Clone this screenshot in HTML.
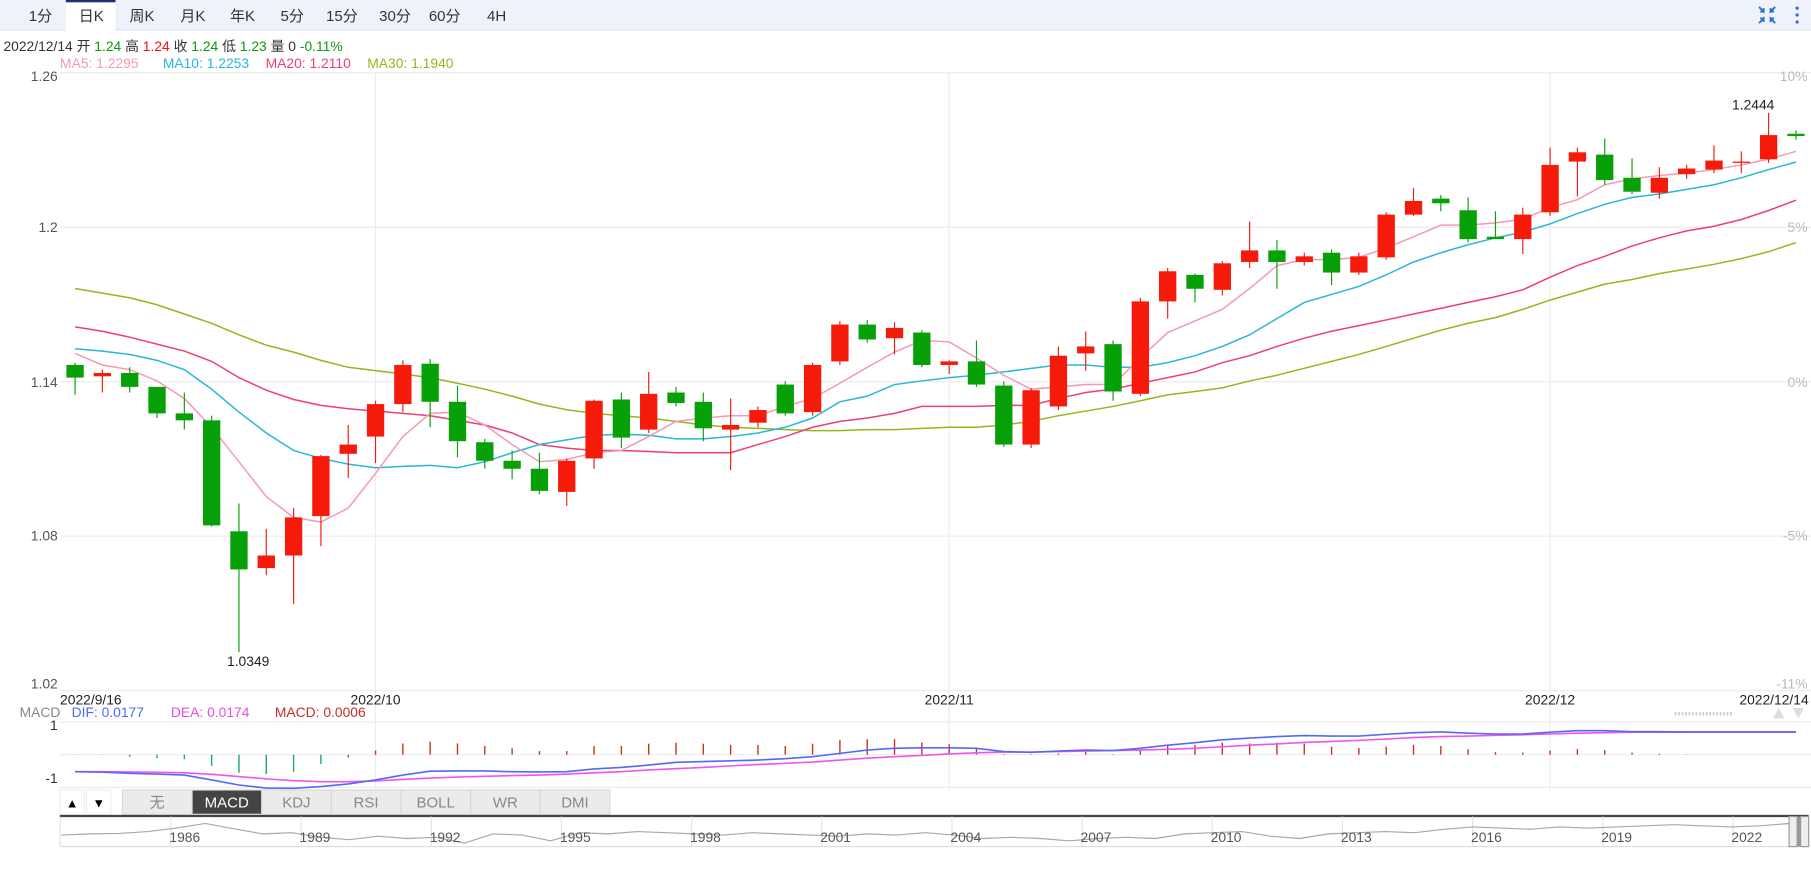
<!DOCTYPE html>
<html><head><meta charset="utf-8">
<style>
html,body{margin:0;padding:0;background:#fff;width:1811px;height:875px;overflow:hidden}
svg{display:block}
text{font-family:"Liberation Sans","Noto Sans CJK SC",sans-serif}
</style></head>
<body>
<svg id="chart" width="1811" height="875" viewBox="0 0 1568 757.6" preserveAspectRatio="none" xmlns="http://www.w3.org/2000/svg">
  <g>
    <rect x="0" y="0" width="1568" height="26" fill="#eef3fb"/>
    <line x1="0" y1="26" x2="1568" y2="26" stroke="#dde4f0"/>
    <rect x="57" y="0" width="43" height="27" fill="#fff"/>
    <rect x="57" y="0" width="43" height="2" fill="#1d2f6f"/>
  </g>
  <g id="tabs" font-size="13" fill="#333" text-anchor="middle"></g>
  <g stroke="#2a6fd6" stroke-width="1.6" fill="none">
    <path d="M1523 6 L1527 10 L1527 7 M1527 10 L1524 10"/>
    <path d="M1537 6 L1533 10 L1533 7 M1533 10 L1536 10"/>
    <path d="M1523 20 L1527 16 L1527 19 M1527 16 L1524 16"/>
    <path d="M1537 20 L1533 16 L1533 19 M1533 16 L1536 16"/>
  </g>
  <g fill="#2a6fd6">
    <circle cx="1556" cy="7" r="1.4"/><circle cx="1556" cy="13" r="1.4"/><circle cx="1556" cy="19" r="1.4"/>
  </g>
  <text x="3" y="44" font-size="12" fill="#333">2022/12/14 开 <tspan fill="#0a9a0a">1.24</tspan> 高 <tspan fill="#f01010">1.24</tspan> 收 <tspan fill="#0a9a0a">1.24</tspan> 低 <tspan fill="#0a9a0a">1.23</tspan> 量 0 <tspan fill="#0a9a0a">-0.11%</tspan></text>
  <g font-size="12">
    <text x="52" y="59" fill="#f59ab4">MA5: 1.2295</text>
    <text x="141" y="59" fill="#29b6d8">MA10: 1.2253</text>
    <text x="230" y="59" fill="#ee3f74">MA20: 1.2110</text>
    <text x="318" y="59" fill="#93b81d">MA30: 1.1940</text>
  </g>
  <g id="grid"></g>
  <g id="mas"></g>
  <g id="candles"></g>
  <g id="labels"></g>
  <g font-size="12">
    <text x="17" y="621" fill="#888">MACD</text>
    <text x="62" y="621" fill="#4a6cf7">DIF: 0.0177</text>
    <text x="148" y="621" fill="#e84ce8">DEA: 0.0174</text>
    <text x="238" y="621" fill="#c0302a">MACD: 0.0006</text>
  </g>
  <g>
    <line x1="1450" y1="618" x2="1500" y2="618" stroke="#ccc" stroke-dasharray="1.5 1.5" stroke-width="3"/>
    <path d="M1535 622 L1540 613 L1545 622 Z" fill="#ddd"/>
    <path d="M1552 613 L1562 613 L1557 622 Z" fill="#ddd"/>
  </g>
  <g id="macd"></g>
  <g id="indtabs"></g>
  <g id="nav"></g>
</svg>
<script>
// ---- data ----
const dates = ["2022/9/16","2022/10","2022/11","2022/12","2022/12/14"];
const dateIdx = [0,11,32,54,63];
const opens  = [1.1465,1.1421,1.1434,1.1380,1.1277,1.1250,1.0819,1.0676,1.0725,1.0878,1.1120,1.1187,1.1313,1.1470,1.1322,1.1165,1.1093,1.1062,1.0972,1.1102,1.1331,1.1214,1.1358,1.1322,1.1214,1.1241,1.1389,1.1282,1.1479,1.1622,1.1569,1.1591,1.1465,1.1479,1.1385,1.1156,1.1304,1.1510,1.1546,1.1353,1.1712,1.1815,1.1757,1.1865,1.1910,1.1865,1.1901,1.1824,1.1883,1.2049,1.2111,1.2066,1.1963,1.1954,1.2058,1.2255,1.2282,1.2192,1.2134,1.2206,1.2224,1.2250,1.2264,1.2363];
const highs  = [1.1474,1.1447,1.1456,1.1380,1.1358,1.1268,1.0927,1.0828,1.0909,1.1116,1.1232,1.1326,1.1483,1.1488,1.1385,1.1178,1.1133,1.1124,1.1102,1.1331,1.1358,1.1438,1.1380,1.1358,1.1335,1.1304,1.1402,1.1474,1.1636,1.1640,1.1631,1.1600,1.1483,1.1560,1.1402,1.1376,1.1537,1.1595,1.1560,1.1726,1.1842,1.1820,1.1869,1.2022,1.1950,1.1901,1.1914,1.1901,1.2058,1.2152,1.2125,1.2116,1.2062,1.2076,1.2309,1.2309,1.2345,1.2268,1.2233,1.2242,1.2318,1.2295,1.2444,1.2376];
const lows   = [1.1349,1.1358,1.1358,1.1259,1.1214,1.0837,1.0349,1.0649,1.0537,1.0761,1.1026,1.1084,1.1282,1.1223,1.1107,1.1062,1.1021,1.0963,1.0918,1.1062,1.1142,1.1201,1.1304,1.1169,1.1057,1.1223,1.1268,1.1268,1.1465,1.1551,1.1506,1.1456,1.1430,1.1380,1.1147,1.1142,1.1290,1.1443,1.1326,1.1344,1.1645,1.1708,1.1735,1.1842,1.1761,1.1851,1.1775,1.1815,1.1874,1.2044,1.2062,1.1941,1.1954,1.1896,1.2044,1.2120,1.2165,1.2129,1.2111,1.2188,1.2210,1.2210,1.2250,1.2340];
const closes = [1.1416,1.1434,1.1380,1.1277,1.1250,1.0842,1.0671,1.0725,1.0873,1.1111,1.1156,1.1313,1.1465,1.1322,1.1169,1.1093,1.1062,1.0976,1.1093,1.1326,1.1183,1.1353,1.1317,1.1219,1.1232,1.1290,1.1277,1.1465,1.1622,1.1564,1.1609,1.1465,1.1479,1.1389,1.1156,1.1367,1.1501,1.1537,1.1362,1.1712,1.1829,1.1761,1.1860,1.1910,1.1865,1.1887,1.1824,1.1887,1.2049,1.2102,1.2093,1.1954,1.1954,1.2049,1.2242,1.2291,1.2183,1.2138,1.2192,1.2228,1.2259,1.2255,1.2358,1.2354];
const ma5  = [1.1510,1.1465,1.1447,1.1403,1.1335,1.1223,1.1089,1.0954,1.0873,1.0855,1.0909,1.1044,1.1187,1.1277,1.1282,1.1232,1.1156,1.1089,1.1098,1.1124,1.1133,1.1187,1.1246,1.1259,1.1268,1.1268,1.1304,1.1335,1.1394,1.1456,1.1515,1.1560,1.1555,1.1492,1.1425,1.1371,1.1380,1.1389,1.1389,1.1492,1.1591,1.1636,1.1681,1.1762,1.1851,1.1874,1.1874,1.1883,1.1919,1.1963,1.2008,1.2008,1.2017,1.2031,1.2076,1.2107,1.2165,1.2188,1.2201,1.2210,1.2224,1.2242,1.2264,1.2295];
const ma10 = [1.1528,1.1519,1.1506,1.1483,1.1447,1.1371,1.1282,1.1201,1.1133,1.1102,1.1080,1.1066,1.1071,1.1075,1.1066,1.1089,1.1124,1.1156,1.1174,1.1192,1.1196,1.1192,1.1178,1.1178,1.1187,1.1201,1.1223,1.1259,1.1322,1.1344,1.1389,1.1403,1.1416,1.1425,1.1438,1.1452,1.1465,1.1465,1.1456,1.1456,1.1474,1.1501,1.1537,1.1582,1.1645,1.1708,1.1739,1.1770,1.1815,1.1865,1.1901,1.1932,1.1959,1.1981,1.2013,1.2053,1.2089,1.2116,1.2129,1.2147,1.2165,1.2192,1.2224,1.2253];
const ma20 = [1.1613,1.1596,1.1573,1.1546,1.1519,1.1479,1.1416,1.1367,1.1331,1.1308,1.1295,1.1286,1.1277,1.1268,1.1250,1.1232,1.1201,1.1156,1.1142,1.1133,1.1133,1.1129,1.1124,1.1124,1.1124,1.1156,1.1187,1.1223,1.1246,1.1259,1.1277,1.1304,1.1304,1.1304,1.1308,1.1308,1.1335,1.1358,1.1371,1.1394,1.1416,1.1438,1.1474,1.1501,1.1537,1.1569,1.1596,1.1618,1.1640,1.1663,1.1685,1.1708,1.1730,1.1757,1.1806,1.1851,1.1887,1.1927,1.1959,1.1986,1.2004,1.2030,1.2065,1.2105];
const ma30 = [1.1762,1.1744,1.1726,1.1699,1.1663,1.1627,1.1582,1.1542,1.1515,1.1483,1.1456,1.1443,1.1430,1.1416,1.1394,1.1371,1.1344,1.1313,1.1291,1.1277,1.1268,1.1259,1.1246,1.1232,1.1223,1.1219,1.1214,1.1210,1.1210,1.1214,1.1214,1.1219,1.1223,1.1223,1.1232,1.1246,1.1268,1.1286,1.1304,1.1326,1.1349,1.1362,1.1376,1.1403,1.1425,1.1452,1.1479,1.1506,1.1537,1.1569,1.1600,1.1627,1.1649,1.1681,1.1717,1.1748,1.1779,1.1797,1.1820,1.1838,1.1856,1.1878,1.1905,1.1940];
const dif  = [-0.67,-0.69,-0.73,-0.76,-0.80,-0.99,-1.19,-1.31,-1.32,-1.25,-1.15,-0.99,-0.80,-0.65,-0.64,-0.64,-0.67,-0.68,-0.67,-0.56,-0.50,-0.41,-0.30,-0.27,-0.24,-0.21,-0.16,-0.08,0.05,0.18,0.25,0.27,0.27,0.25,0.12,0.09,0.14,0.18,0.16,0.25,0.37,0.47,0.58,0.65,0.71,0.75,0.73,0.73,0.80,0.86,0.89,0.84,0.81,0.81,0.88,0.94,0.94,0.90,0.90,0.89,0.89,0.89,0.89,0.89];
const dea  = [-0.67,-0.67,-0.68,-0.69,-0.71,-0.77,-0.86,-0.95,-1.02,-1.06,-1.06,-1.03,-0.97,-0.92,-0.88,-0.85,-0.82,-0.80,-0.76,-0.71,-0.67,-0.60,-0.55,-0.50,-0.44,-0.39,-0.34,-0.29,-0.21,-0.14,-0.08,-0.03,0.03,0.07,0.10,0.10,0.12,0.14,0.16,0.18,0.21,0.25,0.31,0.37,0.42,0.48,0.52,0.56,0.61,0.67,0.71,0.73,0.76,0.78,0.81,0.84,0.86,0.88,0.88,0.88,0.88,0.88,0.88,0.88];
const hist = [-0.01,-0.01,-0.08,-0.14,-0.18,-0.44,-0.71,-0.76,-0.67,-0.37,-0.12,0.16,0.44,0.51,0.44,0.34,0.25,0.14,0.14,0.34,0.34,0.43,0.47,0.43,0.38,0.38,0.34,0.43,0.58,0.61,0.61,0.48,0.41,0.27,0.02,0.02,0.05,0.12,0.02,0.18,0.35,0.38,0.47,0.44,0.47,0.43,0.31,0.26,0.31,0.38,0.34,0.21,0.10,0.08,0.16,0.22,0.18,0.08,0.04,0.01,0,0,0,0];
const priceTicks = [1.26,1.2,1.14,1.08,1.02];
const priceTickLabels = ["1.26","1.2","1.14","1.08","1.02"];
const pctTickLabels = ["10%","5%","0%","-5%","-11%"];
const navYears = ["1986","1989","1992","1995","1998","2001","2004","2007","2010","2013","2016","2019","2022"];
const navSeries = [0.45,0.5,0.52,0.6,0.75,0.95,0.72,0.5,0.55,0.35,0.25,0.4,0.3,0.35,0.1,0.5,0.45,0.2,0.55,0.5,0.6,0.55,0.5,0.45,0.55,0.5,0.45,0.4,0.5,0.45,0.55,0.45,0.3,0.35,0.3,0.2,0.3,0.35,0.3,0.5,0.55,0.6,0.4,0.3,0.5,0.55,0.6,0.55,0.7,0.8,0.75,0.7,0.8,0.75,0.8,0.85,0.9,0.85,0.8,0.85,0.95];

// ---- axes ----
const NS = "http://www.w3.org/2000/svg";
const X0 = 65, STEP = 23.65;
const xAt = i => X0 + i * STEP;
const yP = p => 63 + (1.26 - p) / 0.06 * 133.75;
const yM = v => 653.4 - 22.08 * v;
function mk(tag, attrs, parent){ const e=document.createElementNS(NS,tag); for(const k in attrs) e.setAttribute(k,attrs[k]); parent.appendChild(e); return e; }

// grid
const grid = document.getElementById('grid');
priceTicks.forEach((p,i)=>{
  const l = mk('line',{x1:52,x2:1568,y1:yP(p),y2:yP(p),stroke:'#ececec'},grid);
  
  
});
dateIdx.slice(1,4).forEach(i=>{
  const l = mk('line',{x1:xAt(i),x2:xAt(i),y1:63,y2:685,stroke:'#ececec'},grid);
  
  
});
[1,0,-1].forEach(v=>{
  const l = mk('line',{x1:52,x2:1568,y1:yM(v*1.28),y2:yM(v*1.28),stroke:'#ececec'},grid);
  
  
});

// labels
const labels = document.getElementById('labels');
const labYs = [70,201,335,468,596];
priceTickLabels.forEach((t,i)=>{
  const e = mk('text',{x:50,y:labYs[i],'font-size':12,fill:'#555','text-anchor':'end'},labels);
  e.textContent=t;
  
  
  const r = mk('text',{x:1565,y:labYs[i],'font-size':12,fill:'#bbb','text-anchor':'end'},labels);
  r.textContent=pctTickLabels[i];
  
  
});
dates.forEach((d,k)=>{
  let anchor='middle', x=xAt(dateIdx[k]);
  if(k===0){anchor='start';x=52;}
  if(k===dates.length-1){anchor='end';x=1566;}
  const e = mk('text',{x:x,y:610,'font-size':12,fill:'#222','text-anchor':anchor},labels);
  e.textContent=d;
  
  
});
[["1","632"],["-1","678"]].forEach(a=>{
  const e = mk('text',{x:50,y:a[1],'font-size':12,fill:'#333','text-anchor':'end'},labels);
  e.textContent=a[0];
  
  
});

// MA lines
const mas = document.getElementById('mas');
[[ma30,'#93b81d','ma30-line'],[ma20,'#ee3f74','ma20-line'],[ma10,'#29b6d8','ma10-line'],[ma5,'#f59ab4','ma5-line']].forEach(m=>{
  const pl = mk('polyline',{points:m[0].map((v,i)=>xAt(i)+','+yP(v)).join(' '),fill:'none',stroke:m[1],'stroke-width':1.3},mas);
  
  
});

// candles
const cg = document.getElementById('candles');
let minI=0,maxI=0;
closes.forEach((c,i)=>{
  const up = c >= opens[i];
  const col = up ? '#f51a0a' : '#08a008';
  const g = mk('g',{},cg);
  
  
  mk('line',{x1:xAt(i),x2:xAt(i),y1:yP(highs[i]),y2:yP(lows[i]),stroke:col,'stroke-width':1},g);
  const t = yP(Math.max(c,opens[i])), b = yP(Math.min(c,opens[i]));
  mk('rect',{x:xAt(i)-7.5,y:t,width:15,height:Math.max(1,b-t),fill:col},g);
  if(lows[i]<lows[minI]) minI=i;
  if(highs[i]>highs[maxI]) maxI=i;
});
const lo = mk('text',{x:xAt(minI)+8,y:yP(lows[minI])+12,'font-size':12,fill:'#222','text-anchor':'middle'},labels);
lo.textContent=lows[minI].toFixed(4);


const hi = mk('text',{x:xAt(maxI)+5,y:yP(highs[maxI])-3,'font-size':12,fill:'#222','text-anchor':'end'},labels);
hi.textContent=highs[maxI].toFixed(4);



// MACD
const mg = document.getElementById('macd');
hist.forEach((v,i)=>{
  if(Math.abs(v)<0.005) return;
  const b = mk('line',{x1:xAt(i),x2:xAt(i),y1:yM(0),y2:yM(v),stroke:v>0?'#c8301e':'#1aa86a','stroke-width':1.2},mg);
  
  
});
[[dea,'#ee55ee','dea-line'],[dif,'#5569f5','dif-line']].forEach(m=>{
  const pl = mk('polyline',{points:m[0].map((v,i)=>xAt(i)+','+yM(v)).join(' '),fill:'none',stroke:m[1],'stroke-width':1.4},mg);
  
  
});

// tabs
const tabNames = ["1分","日K","周K","月K","年K","5分","15分","30分","60分","4H"];
const tabX = [35,79,123,167,210,253,296,342,385,430];
const tg = document.getElementById('tabs');
tabNames.forEach((t,i)=>{
  const e = mk('text',{x:tabX[i],y:18},tg);
  e.textContent=t;
  
  
});

// indicator tabs
const ig = document.getElementById('indtabs');
[['▲',52,'raise-panel-button'],['▼',75,'lower-panel-button']].forEach(a=>{
  const g = mk('g',{},ig);
  
  
  mk('rect',{x:a[1],y:684,width:21,height:21,fill:'#fff',stroke:'#eee'},g);
  const t = mk('text',{x:a[1]+10.5,y:699,'font-size':11,'text-anchor':'middle',fill:'#000'},g);
  t.textContent=a[0];
});
const indNames = ["无","MACD","KDJ","RSI","BOLL","WR","DMI"];
indNames.forEach((n,i)=>{
  const x = 106 + i*60.3;
  const sel = n==='MACD';
  const g = mk('g',{},ig);
  
  
  mk('rect',{x:x,y:684,width:60.3,height:21,fill:sel?'#444':'#ebebeb',stroke:'#d8d8d8'},g);
  const t = mk('text',{x:x+30,y:699,'font-size':13,'text-anchor':'middle',fill:sel?'#fff':'#888'},g);
  t.textContent=n;
});

// navigator
const ng = document.getElementById('nav');
const nb = mk('g',{},ng);


mk('rect',{x:52,y:706,width:1513,height:27,fill:'#fff',stroke:'#ddd'},nb);
mk('line',{x1:52,x2:1566,y1:706.5,y2:706.5,stroke:'#444','stroke-width':2},nb);
const nx = i => 53 + i*(1496/(navSeries.length-1));
const ny = v => 732 - v*20;
navYears.forEach((y,i)=>{
  const x = 148 + i*112.7;
  mk('line',{x1:x,x2:x,y1:707,y2:733,stroke:'#e4e4e4'},nb);
});
const np = mk('polyline',{points:navSeries.map((v,i)=>nx(i)+','+ny(v)).join(' '),fill:'none',stroke:'#a8a8a8','stroke-width':1},nb);


navYears.forEach((y,i)=>{
  const t = mk('text',{x:148+i*112.7+12,y:729,'font-size':12,fill:'#555','text-anchor':'middle'},nb);
  t.textContent=y;
  
  
});
const h = mk('g',{},ng);


mk('rect',{x:1549,y:707,width:7,height:26,fill:'#eee',stroke:'#999'},h);
mk('rect',{x:1556,y:707,width:3,height:26,fill:'#999'},h);
mk('rect',{x:1559,y:707,width:7,height:26,fill:'#eee',stroke:'#999'},h);
</script>
</body></html>
